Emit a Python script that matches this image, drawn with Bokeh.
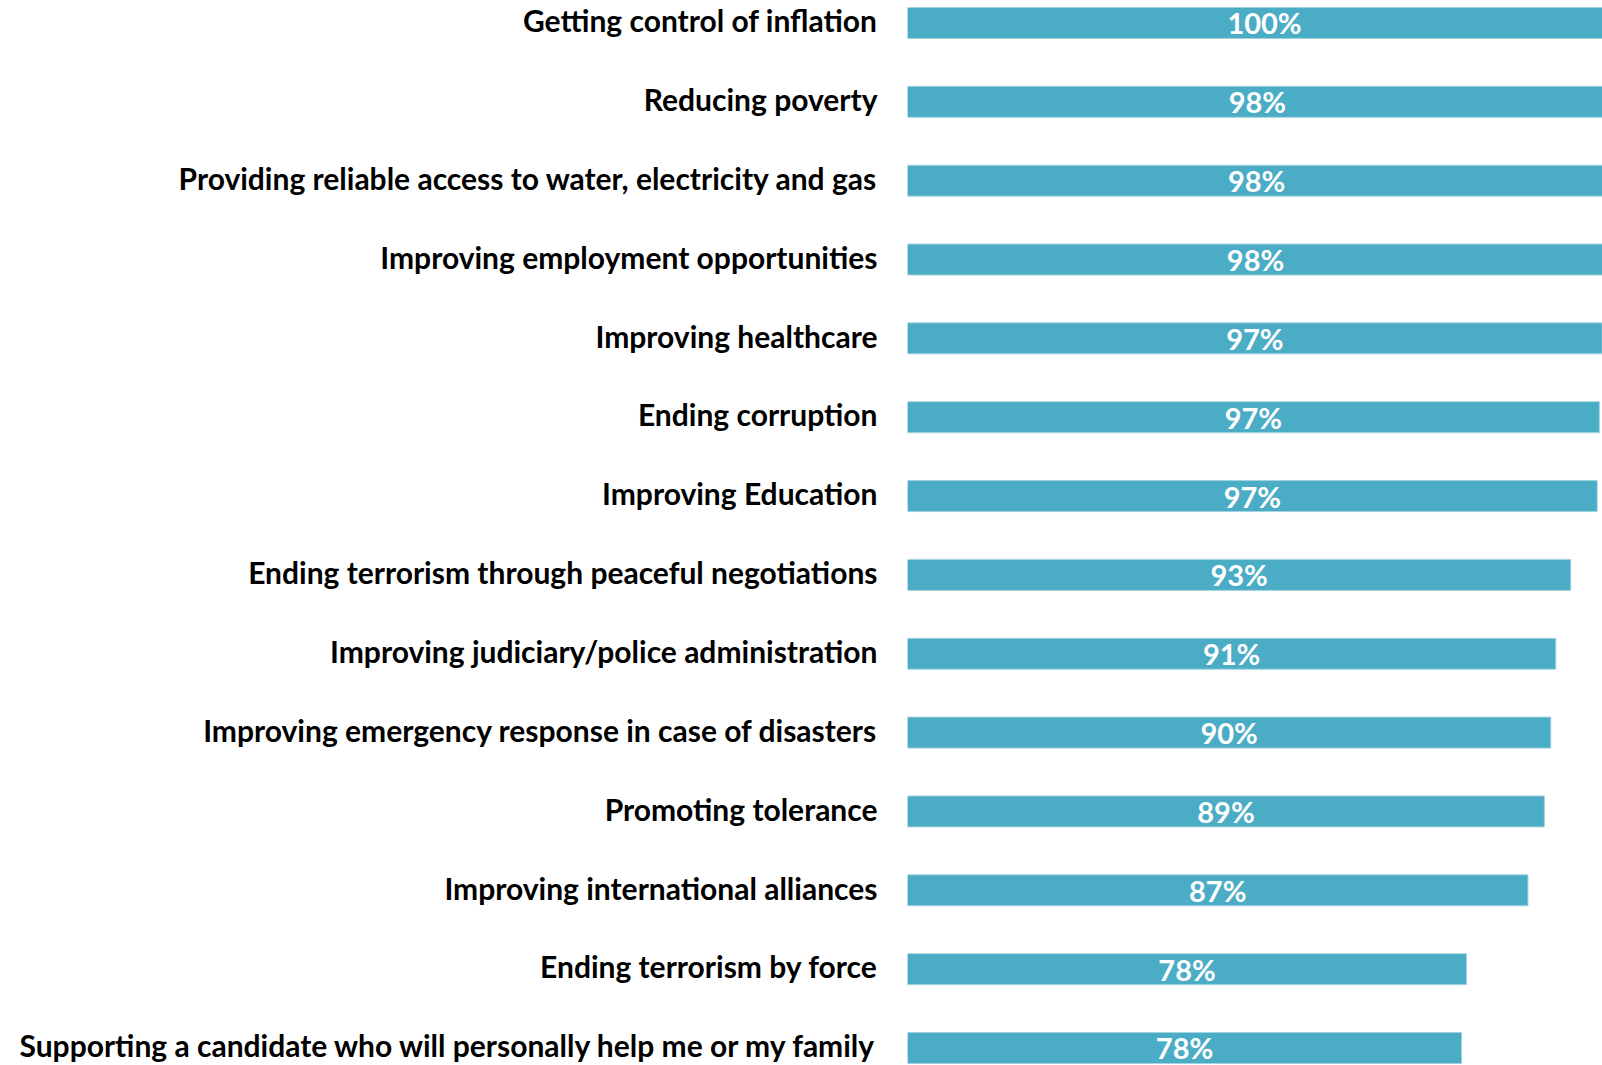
from bokeh.plotting import figure
from bokeh.models import ColumnDataSource, Range1d, FixedTicker, LinearAxis
from bokeh.embed import file_html
from bokeh.resources import INLINE
from bokeh.core.properties import value

categories = [
    "Getting control of inflation",
    "Reducing poverty",
    "Providing reliable access to water, electricity and gas",
    "Improving employment opportunities",
    "Improving healthcare",
    "Ending corruption",
    "Improving Education",
    "Ending terrorism through peaceful negotiations",
    "Improving judiciary/police administration",
    "Improving emergency response in case of disasters",
    "Promoting tolerance",
    "Improving international alliances",
    "Ending terrorism by force",
    "Supporting a candidate who will personally help me or my family",
]
values = [100.0, 98.0, 97.8, 97.5, 97.3, 96.9, 96.6, 92.9, 90.8, 90.1, 89.2, 86.9, 78.3, 77.6]
labels = ["100%", "98%", "98%", "98%", "97%", "97%", "97%", "93%", "91%", "90%", "89%", "87%", "78%", "78%"]

idx = list(range(len(categories)))
src = ColumnDataSource(dict(
    y=idx,
    value=values,
    mid=[v / 2 for v in values],
    label=labels,
))

FONT = "Lato"
pad_top = 0.285
pad_bottom = 0.222
label_shift = 0.035  # nudges category labels up by ~3px to centre them on bars

p = figure(
    width=1602, height=1065,
    x_range=Range1d(0, 97.34),
    y_range=Range1d(len(categories) - 1 + pad_bottom, -pad_top),
    output_backend="svg", toolbar_location=None,
    x_axis_location=None, y_axis_location=None,
    min_border_left=907, min_border_right=0, min_border_top=0, min_border_bottom=0,
)
p.extra_y_ranges = {"labels": Range1d(len(categories) - 1 + pad_bottom + label_shift,
                                      -pad_top + label_shift)}
p.outline_line_color = None
p.xgrid.visible = False
p.ygrid.visible = False
p.background_fill_color = "white"
p.border_fill_color = "white"

p.hbar(y="y", left=0, right="value", height=0.393, source=src,
       fill_color="#4BACC6", line_color="#A3D3E0", line_width=1)

p.text(x="mid", y="y", text="label", source=src,
       text_align="center", text_baseline="middle",
       text_color="white", text_font=value(FONT), text_font_style="bold",
       text_font_size="29px", y_offset=0)

yax = LinearAxis(y_range_name="labels")
yax.ticker = FixedTicker(ticks=idx)
yax.major_label_overrides = {i: c for i, c in zip(idx, categories)}
yax.axis_line_color = None
yax.major_tick_line_color = None
yax.minor_tick_line_color = None
yax.major_tick_out = 0
yax.major_tick_in = 0
yax.major_label_standoff = 30
yax.major_label_text_font = FONT
yax.major_label_text_font_style = "bold"
yax.major_label_text_font_size = "30px"
yax.major_label_text_color = "black"
p.add_layout(yax, "left")

open("out.html", "w").write(file_html(p, INLINE))
